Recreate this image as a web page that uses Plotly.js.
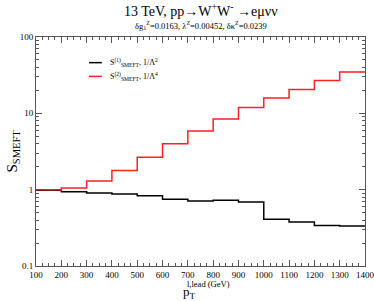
<!DOCTYPE html>
<html><head><meta charset="utf-8">
<script src="https://cdn.plot.ly/plotly-3.0.1.min.js"></script>
<style>html,body{margin:0;padding:0;background:#fff}#c{width:374px;height:301px}</style>
</head><body><div id="c"></div>
<script>
// bin edges of leading-lepton pT (GeV)
const binEdges = [100,200,300,400,500,600,700,800,900,1000,1100,1200,1300,1400];
// S_SMEFT^(1), 1/Lambda^2
const s1Values = [0.98,0.94,0.905,0.88,0.83,0.75,0.71,0.725,0.69,0.41,0.376,0.34,0.333];
// S_SMEFT^(2), 1/Lambda^4
const s2Values = [1.0,1.05,1.3,1.78,2.66,3.99,5.85,8.4,11.9,15.9,20.5,27.0,34.7];
const xTickVals = [100,200,300,400,500,600,700,800,900,1000,1100,1200,1300,1400];
const yTickVals = [0.1,1,10,100];
const yTickText = ['0.1','1','10','100'];

const stepY = v => v.concat([v[v.length-1]]);
const serif = 'Liberation Serif, Times New Roman, serif';
const axCol = '#555';

const traces = [
  {x: binEdges, y: stepY(s1Values), mode:'lines', line:{shape:'hv', color:'#000', width:1.5}, showlegend:false},
  {x: binEdges, y: stepY(s2Values), mode:'lines', line:{shape:'hv', color:'#ff2020', width:1.5}, showlegend:false}
];

const yMinor = [];
[0.1,1,10].forEach(d => { for (let k=2;k<=9;k++) yMinor.push(+(k*d).toFixed(3)); });

const layout = {
  width:374, height:301,
  margin:{l:36, r:9, t:37, b:35, autoexpand:false},
  paper_bgcolor:'#fff', plot_bgcolor:'#fff',
  font:{family:serif, color:'#000', size:9},
  showlegend:false,
  xaxis:{range:[100,1400], tickmode:'array', tickvals:xTickVals, ticks:'inside', ticklen:6, tickwidth:1,
    tickcolor:axCol, showline:true, linecolor:axCol, linewidth:1, mirror:'allticks', showgrid:false, zeroline:false,
    tickfont:{size:9, family:serif}, ticklabeloverflow:'allow', automargin:false,
    minor:{dtick:25, tick0:100, ticks:'inside', ticklen:3, tickcolor:axCol, showgrid:false}},
  yaxis:{type:'log', range:[-1,2], tickmode:'array', tickvals:yTickVals, ticktext:yTickText, ticks:'inside', ticklen:6, tickwidth:1,
    tickcolor:axCol, showline:true, linecolor:axCol, linewidth:1, mirror:'allticks', showgrid:false, zeroline:false,
    tickfont:{size:9, family:serif}, ticklabeloverflow:'allow', automargin:false,
    minor:{tickmode:'array', tickvals:yMinor, ticks:'inside', ticklen:3, tickcolor:axCol, showgrid:false}},
  annotations:[
    {xref:'paper', yref:'paper', x:0.5, y:1, yshift:16, xanchor:'center', yanchor:'bottom', showarrow:false,
      text:'13 TeV, pp→W<sup>+</sup>W<sup>-</sup> →eμνν', font:{size:14, family:serif}},
    {xref:'paper', yref:'paper', x:0.5, y:1, yshift:4, xanchor:'center', yanchor:'bottom', showarrow:false,
      text:'δg<sub>1</sub><sup>Z</sup>=0.0163, λ<sup>Z</sup>=0.00452, δκ<sup>Z</sup>=0.0239', font:{size:8.5, family:serif}},
    {xref:'paper', yref:'paper', x:0.523, y:0, yshift:-18, xanchor:'center', yanchor:'middle', showarrow:false,
      text:'l,lead (GeV)', font:{size:8.5, family:serif}},
    {xref:'paper', yref:'paper', x:0.468, y:0, yshift:-37, xanchor:'center', yanchor:'bottom', showarrow:false,
      text:'p<sub>T</sub>', font:{size:13, family:serif}},
    {xref:'paper', yref:'paper', x:0, xshift:-24, y:0.5, xanchor:'center', yanchor:'middle', showarrow:false, textangle:-90,
      text:'S<sub>SMEFT</sub>', font:{size:15, family:serif}},
    {xref:'paper', yref:'paper', x:0.219, y:0.888, xanchor:'left', yanchor:'middle', showarrow:false,
      text:'S<sup>(1)</sup><sub>SMEFT</sub>, 1/Λ<sup>2</sup>', font:{size:8, family:serif}},
    {xref:'paper', yref:'paper', x:0.219, y:0.828, xanchor:'left', yanchor:'middle', showarrow:false,
      text:'S<sup>(2)</sup><sub>SMEFT</sub>, 1/Λ<sup>4</sup>', font:{size:8, family:serif}}
  ],
  shapes:[
    {type:'line', xref:'paper', yref:'paper', x0:0.161, x1:0.2, y0:0.888, y1:0.888, line:{color:'#000', width:1.5}},
    {type:'line', xref:'paper', yref:'paper', x0:0.161, x1:0.2, y0:0.828, y1:0.828, line:{color:'#ff2020', width:1.5}}
  ]
};
Plotly.newPlot('c', traces, layout, {displayModeBar:false, staticPlot:true});
</script></body></html>
